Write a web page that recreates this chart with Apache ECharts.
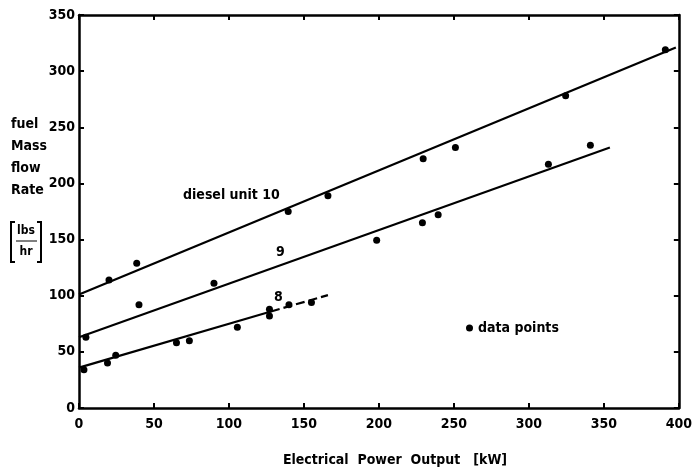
<!DOCTYPE html>
<html>
<head>
<meta charset="utf-8">
<script src="https://cdn.jsdelivr.net/npm/echarts@6/dist/echarts.min.js"></script>
<style>html,body{margin:0;padding:0;background:#fff}#c{width:695px;height:474px}</style>
</head>
<body>
<div id="c"></div>
<script>
// ---- data ----
const unit10X = [20, 38.5, 139.5, 166, 229.5, 251, 324.5, 391];
const unit10Y = [114, 129, 175, 189, 222, 232, 278, 319];
const unit9X = [4.6, 40, 90, 198.5, 229, 239.5, 313, 341];
const unit9Y = [63, 92, 111, 149.5, 165, 172, 217, 234];
const unit8X = [3.3, 19, 24.5, 65, 73.6, 105.6, 127, 127, 140, 155];
const unit8Y = [34, 40, 47, 58, 60, 72, 82, 88, 92, 94];
// fitted lines: [x0, y0, x1, y1]
const fit10 = [0, 101, 398, 321];
const fit9 = [0, 63, 354, 232];
const fit8Solid = [0, 36, 128, 86];
const fit8Dashed = [128, 86, 166, 100.5];
const xTicks = [0, 50, 100, 150, 200, 250, 300, 350, 400];
const yTicks = [0, 50, 100, 150, 200, 250, 300, 350];

const FONT = "'DejaVu Sans Condensed', 'Liberation Sans Narrow', sans-serif";
const pts = (xs, ys) => xs.map((x, i) => [x, ys[i]]);
const seg = s => [[s[0], s[1]], [s[2], s[3]]];
const allPts = pts(unit10X, unit10Y).concat(pts(unit9X, unit9Y), pts(unit8X, unit8Y));

const axisLine = {show: true, onZero: false, lineStyle: {color: '#000', width: 2.5}};
const tick = {show: true, inside: true, length: 5, lineStyle: {color: '#000', width: 2}};
const lbl = {color: '#000', fontFamily: FONT, fontWeight: 'bold', fontSize: 14};

const chart = echarts.init(document.getElementById('c'), null, {renderer: 'canvas'});
const lineSeries = (s, dashed) => ({
  type: 'line', data: seg(s), showSymbol: false, symbol: 'none', silent: true,
  lineStyle: {color: '#000', width: 2.2, type: dashed ? [9, 4] : 'solid'}
});
chart.setOption({
  animation: false,
  backgroundColor: '#fff',
  grid: {left: 79, right: 13, top: 15, bottom: 66, containLabel: false},
  xAxis: [
    {type: 'value', min: 0, max: 400, interval: 50, position: 'bottom',
     axisLine, axisTick: tick, splitLine: {show: false},
     axisLabel: Object.assign({margin: 9, customValues: xTicks}, lbl)},
    {type: 'value', min: 0, max: 400, interval: 50, position: 'top',
     axisLine, axisTick: tick, splitLine: {show: false}, axisLabel: {show: false}}
  ],
  yAxis: [
    {type: 'value', min: 0, max: 350, interval: 50, position: 'left',
     axisLine, axisTick: tick, splitLine: {show: false},
     axisLabel: Object.assign({margin: 4, customValues: yTicks}, lbl)},
    {type: 'value', min: 0, max: 350, interval: 50, position: 'right',
     axisLine, axisTick: tick, splitLine: {show: false}, axisLabel: {show: false}}
  ],
  legend: {
    data: ['data points'], left: 461, top: 316, icon: 'circle',
    itemWidth: 7, itemHeight: 7, itemGap: 4,
    textStyle: {color: '#000', fontFamily: FONT, fontWeight: 'bold', fontSize: 14}
  },
  series: [
    lineSeries(fit10), lineSeries(fit9), lineSeries(fit8Solid), lineSeries(fit8Dashed, true),
    {name: 'data points', type: 'scatter', data: allPts, symbol: 'circle', symbolSize: 7,
     itemStyle: {color: '#000', opacity: 1}}
  ],
  graphic: [
    {type: 'text', left: 183, top: 188, style: {text: 'diesel unit 10', font: "bold 14px " + FONT, fill: '#000'}},
    {type: 'text', left: 276, top: 245, style: {text: '9', font: "bold 14px " + FONT, fill: '#000'}},
    {type: 'text', left: 274, top: 290, style: {text: '8', font: "bold 14px " + FONT, fill: '#000'}},
    {type: 'text', left: 11, top: 117, style: {text: 'fuel', font: "bold 14px " + FONT, fill: '#000'}},
    {type: 'text', left: 11, top: 139, style: {text: 'Mass', font: "bold 14px " + FONT, fill: '#000'}},
    {type: 'text', left: 11, top: 161, style: {text: 'flow', font: "bold 14px " + FONT, fill: '#000'}},
    {type: 'text', left: 11, top: 183, style: {text: 'Rate', font: "bold 14px " + FONT, fill: '#000'}},
    {type: 'text', x: 26, y: 231, style: {text: 'lbs', font: "bold 12px " + FONT, fill: '#000', align: 'center', verticalAlign: 'middle'}},
    {type: 'text', x: 26, y: 252, style: {text: 'hr', font: "bold 12px " + FONT, fill: '#000', align: 'center', verticalAlign: 'middle'}},
    {type: 'line', shape: {x1: 16, y1: 241, x2: 37, y2: 241}, style: {stroke: '#000', lineWidth: 1}},
    {type: 'polyline', shape: {points: [[15, 222], [11, 222], [11, 262], [15, 262]]}, style: {stroke: '#000', lineWidth: 2, fill: null}},
    {type: 'polyline', shape: {points: [[37, 222], [41, 222], [41, 262], [37, 262]]}, style: {stroke: '#000', lineWidth: 2, fill: null}},
    {type: 'text', x: 395, y: 460, style: {text: 'Electrical  Power  Output   [kW]', font: "bold 14px " + FONT, fill: '#000', align: 'center', verticalAlign: 'middle'}}
  ]
});
</script>
</body>
</html>
